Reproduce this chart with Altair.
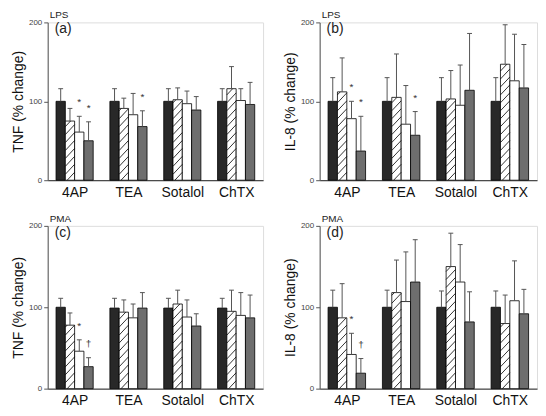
import json
import altair as alt
import pandas as pd

CATEGORIES = ["4AP", "TEA", "Sotalol", "ChTX"]
FILLS = ["#282828", "#ffffff", "#ffffff", "#6e6e6e"]   # black, hatched, white, gray
HATCHED = [False, True, False, False]

# Panel (a): TNF, LPS  -- bar means and error-bar tops, per category (4 bars each)
A_MEANS = [[100, 75, 61, 50], [100, 91, 83, 68], [100, 102, 97, 89], [100, 116, 101, 96]]
A_TOPS = [[116, 91, 81, 74], [116, 104, 110, 88], [116, 117, 113, 106], [116, 144, 116, 124]]
A_MARKS = [("4AP", 2, "*"), ("4AP", 3, "*"), ("TEA", 3, "*")]

# Panel (b): IL-8, LPS
B_MEANS = [[100, 112, 78, 37], [100, 105, 71, 57], [100, 103, 95, 114], [100, 147, 126, 117]]
B_TOPS = [[130, 155, 100, 81], [130, 160, 120, 87], [130, 139, 146, 186], [130, 197, 185, 172]]
B_MARKS = [("4AP", 2, "*"), ("4AP", 3, "*"), ("TEA", 3, "*")]

# Panel (c): TNF, PMA
C_MEANS = [[100, 78, 46, 27], [99, 94, 87, 99], [99, 104, 88, 77], [99, 95, 90, 87]]
C_TOPS = [[111, 93, 60, 38], [111, 109, 104, 118], [111, 121, 109, 92], [111, 121, 118, 115]]
C_MARKS = [("4AP", 2, "*"), ("4AP", 3, "†")]

# Panel (d): IL-8, PMA
D_MEANS = [[100, 87, 42, 19], [100, 118, 107, 131], [100, 150, 131, 82], [100, 80, 108, 92]]
D_TOPS = [[121, 129, 68, 37], [121, 158, 168, 183], [120, 191, 177, 119], [120, 115, 157, 122]]
D_MARKS = [("4AP", 2, "*"), ("4AP", 3, "†")]

GROUP_W = 0.69
BAR_W = GROUP_W / 4
CAP_HALF = 0.045
FONT = "Liberation Sans"
ERR_COLOR = "#555555"


def panel(means, tops, marks, ytitle, stim, letter, width, height):
    rows, hatch = [], []
    upp = 200.0 / height
    rise, gap = 10 * upp, 8 * upp
    for i, cat in enumerate(CATEGORIES):
        for j in range(4):
            x0 = i - GROUP_W / 2 + j * BAR_W
            x1 = x0 + BAR_W
            xm = (x0 + x1) / 2
            m, t = means[i][j], tops[i][j]
            rows.append(dict(cat=cat, bar=j, x0=x0, x1=x1, xm=xm, cl=xm - CAP_HALF,
                             cr=xm + CAP_HALF, mean=m, top=t, base=0, fill=FILLS[j]))
            if HATCHED[j]:
                k = 1
                while True:
                    c = -rise + gap * k
                    if c >= m:
                        break
                    xa, ya, xb, yb = x0, c, x1, c + rise
                    if ya < 0:
                        xa = x0 + (-c) / rise * BAR_W
                        ya = 0
                    if yb > m:
                        xb = x0 + (m - c) / rise * BAR_W
                        yb = m
                    if xb > xa:
                        hatch.append(dict(xa=xa, ya=ya, xb=xb, yb=yb))
                    k += 1
    df = pd.DataFrame(rows)
    hd = pd.DataFrame(hatch)
    ann = []
    for cat, j, sym in marks:
        r = df[(df.cat == cat) & (df.bar == j)].iloc[0]
        ann.append(dict(xm=r.xm, y=r.top + 12 * upp * 0.9 + 4, sym=sym))
    ad = pd.DataFrame(ann)

    xs = alt.Scale(domain=[-0.5, 3.5], nice=False, zero=False)
    ys = alt.Scale(domain=[0, 200], nice=False)
    xaxis = alt.Axis(values=[0, 1, 2, 3], labelExpr=json.dumps(CATEGORIES) + "[datum.value]",
                     ticks=False, grid=False, labelFontSize=14, labelPadding=5,
                     labelColor="#111111", domainColor="#222222", title=None, labelFlush=False)
    yaxis = alt.Axis(values=[0, 100, 200], tickSize=4, labelPadding=2, labelFontSize=8,
                     labelColor="#444444", domainColor="#555555", tickColor="#555555",
                     grid=False, title=ytitle, titleFontSize=14, titleFontWeight="normal",
                     titleColor="#111111", titlePadding=3)

    def X(f):
        return alt.X(f, scale=xs, axis=xaxis)

    def Y(f):
        return alt.Y(f, scale=ys, axis=yaxis)

    bars = alt.Chart(df).mark_rect(stroke="black", strokeWidth=0.8).encode(
        x=X("x0:Q"), x2="x1", y=Y("mean:Q"), y2="base",
        fill=alt.Fill("fill:N", scale=None),
    )
    hatch_l = alt.Chart(hd).mark_rule(color="black", strokeWidth=0.8).encode(
        x=X("xa:Q"), x2="xb", y=Y("ya:Q"), y2="yb",
    )
    err = alt.Chart(df).mark_rule(color=ERR_COLOR, strokeWidth=1).encode(
        x=X("xm:Q"), y=Y("mean:Q"), y2="top",
    )
    caps = alt.Chart(df).mark_rule(color=ERR_COLOR, strokeWidth=1).encode(
        x=X("cl:Q"), x2="cr", y=Y("top:Q"),
    )
    stars = alt.Chart(ad).mark_text(fontSize=10, color="#333333", baseline="middle",
                                    font=FONT).encode(
        x=X("xm:Q"), y=Y("y:Q"), text="sym:N",
    )
    one = alt.Data(values=[{"k": 1}])
    stim_t = alt.Chart(one).mark_text(align="left", baseline="middle", fontSize=10,
                                      color="#222222", font=FONT).encode(
        x=alt.value(2), y=alt.value(-7), text=alt.value(stim))
    let_t = alt.Chart(one).mark_text(align="left", baseline="middle", fontSize=14,
                                     color="#222222", font=FONT).encode(
        x=alt.value(7), y=alt.value(7), text=alt.value(letter))
    return alt.layer(bars, hatch_l, err, caps, stars, stim_t, let_t).properties(
        width=width, height=height)


pa = panel(A_MEANS, A_TOPS, A_MARKS, "TNF (% change)", "LPS", "(a)", 217, 159)
pb = panel(B_MEANS, B_TOPS, B_MARKS, "IL-8 (% change)", "LPS", "(b)", 219, 159)
pc = panel(C_MEANS, C_TOPS, C_MARKS, "TNF (% change)", "PMA", "(c)", 217, 164)
pd_ = panel(D_MEANS, D_TOPS, D_MARKS, "IL-8 (% change)", "PMA", "(d)", 219, 164)

chart = alt.concat(pa, pb, pc, pd_, columns=2,
                   spacing=alt.RowColnumber(row=46, column=57),
                   bounds="flush", align="each").properties(
    padding={"left": 3, "top": 0, "right": 0, "bottom": 0}
).configure_view(strokeWidth=0).configure(font=FONT)

chart.save("out.html", embed_options={"renderer": "svg", "actions": False})
